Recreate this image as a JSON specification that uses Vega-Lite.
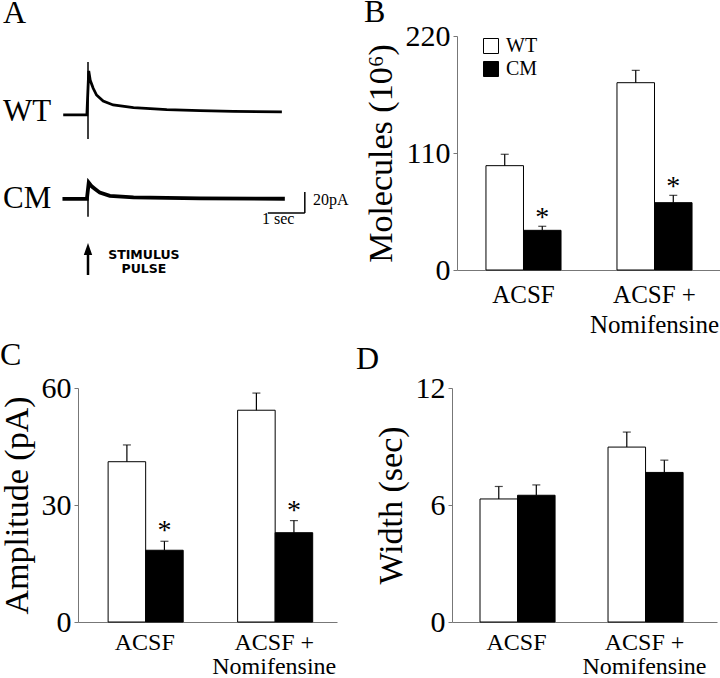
{
  "$schema": "https://vega.github.io/schema/vega-lite/v6.json",
  "padding": {"top": -4, "left": 0, "right": 0, "bottom": 0},
  "background": "white",
  "spacing": 2,
  "resolve": {"scale": {"fill": "independent"}, "legend": {"fill": "independent"}},
  "datasets": {
    "traces": [
      {"trace": "WT", "i": 0, "time": -0.67, "current": 80},
      {"trace": "WT", "i": 1, "time": -0.03, "current": 80},
      {"trace": "WT", "i": 2, "time": 0.02, "current": 122},
      {"trace": "WT", "i": 3, "time": 0.06, "current": 113},
      {"trace": "WT", "i": 4, "time": 0.14, "current": 105.4},
      {"trace": "WT", "i": 5, "time": 0.23, "current": 99},
      {"trace": "WT", "i": 6, "time": 0.41, "current": 93.3},
      {"trace": "WT", "i": 7, "time": 0.68, "current": 89.5},
      {"trace": "WT", "i": 8, "time": 1.23, "current": 87},
      {"trace": "WT", "i": 9, "time": 2.13, "current": 85},
      {"trace": "WT", "i": 10, "time": 3.03, "current": 84.1},
      {"trace": "WT", "i": 11, "time": 3.93, "current": 83.5},
      {"trace": "WT", "i": 12, "time": 5.24, "current": 82.9},
      {"trace": "CM", "i": 0, "time": -0.69, "current": 0},
      {"trace": "CM", "i": 1, "time": -0.03, "current": 0},
      {"trace": "CM", "i": 2, "time": 0.02, "current": 15.6},
      {"trace": "CM", "i": 3, "time": 0.1, "current": 12},
      {"trace": "CM", "i": 4, "time": 0.19, "current": 9.5},
      {"trace": "CM", "i": 5, "time": 0.32, "current": 6},
      {"trace": "CM", "i": 6, "time": 0.59, "current": 2.9},
      {"trace": "CM", "i": 7, "time": 1.23, "current": 1.6},
      {"trace": "CM", "i": 8, "time": 3.03, "current": 0.6},
      {"trace": "CM", "i": 9, "time": 5.32, "current": 0.2}
    ],
    "artifacts": [
      {"trace": "WT", "time": 0, "low": 57, "high": 130.5},
      {"trace": "CM", "time": 0, "low": -16.9, "high": 17.1}
    ],
    "scalebar": [
      {"time": 5.86, "time2": 5.86, "current": -13.3, "current2": 6.7},
      {"time": 4.86, "time2": 5.86, "current": -13.3, "current2": -13.3}
    ],
    "arrow": [{"time": 0, "low": -72.4, "high": -50, "head": -47.6}],
    "labels": [
      {"kind": "name", "label": "WT", "time": -2.297, "current": 82.4},
      {"kind": "name", "label": "CM", "time": -2.297, "current": 0},
      {"kind": "scale", "label": "20pA", "time": 6.08, "current": -1},
      {"kind": "scaleC", "label": "1 sec", "time": 5.14, "current": -19},
      {"kind": "stim", "label": "STIMULUS\nPULSE", "time": 1.51, "current": -53}
    ],
    "bars": [
      {"panel": "B", "condition": "ACSF", "genotype": "WT", "value": 98.1, "upper": 108.8, "sig": ""},
      {"panel": "B", "condition": "ACSF", "genotype": "CM", "value": 37.3, "upper": 41.1, "sig": "*"},
      {"panel": "B", "condition": "ACSF + Nomifensine", "genotype": "WT", "value": 176.1, "upper": 187.7, "sig": ""},
      {"panel": "B", "condition": "ACSF + Nomifensine", "genotype": "CM", "value": 63.3, "upper": 70.2, "sig": "*"},
      {"panel": "C", "condition": "ACSF", "genotype": "WT", "value": 41.1, "upper": 45.4, "sig": ""},
      {"panel": "C", "condition": "ACSF", "genotype": "CM", "value": 18.4, "upper": 20.7, "sig": "*"},
      {"panel": "C", "condition": "ACSF + Nomifensine", "genotype": "WT", "value": 54.3, "upper": 58.7, "sig": ""},
      {"panel": "C", "condition": "ACSF + Nomifensine", "genotype": "CM", "value": 22.9, "upper": 26, "sig": "*"},
      {"panel": "D", "condition": "ACSF", "genotype": "WT", "value": 6.31, "upper": 6.95, "sig": ""},
      {"panel": "D", "condition": "ACSF", "genotype": "CM", "value": 6.5, "upper": 7.03, "sig": ""},
      {"panel": "D", "condition": "ACSF + Nomifensine", "genotype": "WT", "value": 8.97, "upper": 9.74, "sig": ""},
      {"panel": "D", "condition": "ACSF + Nomifensine", "genotype": "CM", "value": 7.67, "upper": 8.3, "sig": ""}
    ]
  },
  "vconcat": [
    {
      "spacing": 15,
      "resolve": {"scale": {"fill": "independent"}, "legend": {"fill": "independent"}},
      "hconcat": [
        {
          "width": 267,
          "height": 250,
          "title": {"text": "A", "offset": 6},
          "encoding": {
            "x": {"field": "time", "type": "quantitative", "scale": {"domain": [-0.2703, 6.946], "nice": false, "zero": false}, "axis": null},
            "y": {"field": "current", "type": "quantitative", "scale": {"domain": [-82.9, 155.2], "nice": false, "zero": false}, "axis": null}
          },
          "layer": [
            {
              "data": {"name": "traces"},
              "transform": [{"filter": "datum.trace == 'WT'"}],
              "mark": {"type": "line", "color": "black", "strokeWidth": 2.8},
              "encoding": {"order": {"field": "i", "type": "quantitative"}}
            },
            {
              "data": {"name": "traces"},
              "transform": [{"filter": "datum.trace == 'CM'"}],
              "mark": {"type": "line", "color": "black", "strokeWidth": 3.8},
              "encoding": {"order": {"field": "i", "type": "quantitative"}}
            },
            {
              "data": {"name": "artifacts"},
              "mark": {"type": "rule", "color": "black", "strokeWidth": 1.5},
              "encoding": {"y": {"field": "low", "type": "quantitative"}, "y2": {"field": "high"}}
            },
            {
              "data": {"name": "scalebar"},
              "mark": {"type": "rule", "color": "black", "strokeWidth": 1.5},
              "encoding": {"x2": {"field": "time2"}, "y2": {"field": "current2"}}
            },
            {
              "data": {"name": "arrow"},
              "mark": {"type": "rule", "color": "black", "strokeWidth": 2.5},
              "encoding": {"y": {"field": "low", "type": "quantitative"}, "y2": {"field": "high"}}
            },
            {
              "data": {"name": "arrow"},
              "mark": {"type": "point", "filled": true, "color": "black", "opacity": 1, "size": 144, "shape": "M-0.7,1L0,-1L0.7,1Z"},
              "encoding": {"y": {"field": "head", "type": "quantitative"}}
            },
            {
              "data": {"name": "labels"},
              "transform": [{"filter": "datum.kind == 'name'"}],
              "mark": {"type": "text", "font": "Liberation Serif", "fontSize": 31, "align": "left", "baseline": "middle", "color": "black"},
              "encoding": {"text": {"field": "label"}}
            },
            {
              "data": {"name": "labels"},
              "transform": [{"filter": "datum.kind == 'scale'"}],
              "mark": {"type": "text", "font": "Liberation Serif", "fontSize": 16, "align": "left", "baseline": "middle", "color": "black"},
              "encoding": {"text": {"field": "label"}}
            },
            {
              "data": {"name": "labels"},
              "transform": [{"filter": "datum.kind == 'scaleC'"}],
              "mark": {"type": "text", "font": "Liberation Serif", "fontSize": 16, "align": "center", "baseline": "middle", "color": "black"},
              "encoding": {"text": {"field": "label"}}
            },
            {
              "data": {"name": "labels"},
              "transform": [{"filter": "datum.kind == 'stim'"}],
              "mark": {"type": "text", "font": "DejaVu Sans", "fontWeight": "bold", "fontSize": 12.5, "lineBreak": "\n", "lineHeight": 14, "align": "center", "baseline": "middle", "color": "black"},
              "encoding": {"text": {"field": "label"}}
            }
          ]
        },
        {
          "width": 264,
          "height": 234,
          "title": {"text": "B", "offset": -8},
          "data": {"name": "bars"},
          "transform": [{"filter": "datum.panel == 'B'"}],
          "encoding": {
            "x": {"field": "condition", "type": "nominal", "sort": ["ACSF", "ACSF + Nomifensine"], "scale": {"paddingInner": 0.427, "paddingOuter": 0.221, "align": 0.5},
              "axis": {"title": null, "ticks": false, "labelAngle": 0, "labelFontSize": 25, "labelPadding": 12, "labelLineHeight": 30, "labelExpr": "datum.value == 'ACSF' ? 'ACSF' : ['ACSF +', 'Nomifensine']"}},
            "xOffset": {"field": "genotype", "type": "nominal", "sort": ["WT", "CM"], "scale": {"paddingInner": 0, "paddingOuter": 0}}
          },
          "layer": [
            {
              "mark": {"type": "bar", "stroke": "black", "strokeWidth": 1},
              "encoding": {
                "y": {"field": "value", "type": "quantitative", "scale": {"domain": [0, 220], "nice": false}, "axis": {"title": "Molecules (10⁶)", "values": [0, 110, 220]}},
                "fill": {"field": "genotype", "type": "nominal", "sort": ["WT", "CM"], "scale": {"domain": ["WT", "CM"], "range": ["white", "black"]},
                  "legend": {"orient": "none", "legendX": 24, "legendY": 0, "title": null, "symbolType": "square", "symbolSize": 225, "symbolStrokeColor": "black", "symbolStrokeWidth": 1, "labelFontSize": 20, "labelFont": "Liberation Serif", "labelColor": "black", "labelOffset": 5, "rowPadding": 3}}
              }
            },
            {
              "mark": {"type": "rule", "color": "black", "strokeWidth": 1.2},
              "encoding": {"y": {"field": "value", "type": "quantitative"}, "y2": {"field": "upper"}}
            },
            {
              "mark": {"type": "tick", "color": "black", "size": 8, "thickness": 1.2, "orient": "horizontal"},
              "encoding": {"y": {"field": "upper", "type": "quantitative"}}
            },
            {
              "mark": {"type": "text", "font": "Liberation Serif", "fontSize": 28, "baseline": "alphabetic", "dy": 0, "color": "black"},
              "encoding": {"y": {"field": "upper", "type": "quantitative"}, "text": {"field": "sig"}}
            }
          ]
        }
      ]
    },
    {
      "spacing": 19,
      "resolve": {"scale": {"fill": "independent"}, "legend": {"fill": "independent"}},
      "hconcat": [
        {
          "width": 259,
          "height": 234,
          "title": {"text": "C", "offset": -3},
          "data": {"name": "bars"},
          "transform": [{"filter": "datum.panel == 'C'"}],
          "encoding": {
            "x": {"field": "condition", "type": "nominal", "sort": ["ACSF", "ACSF + Nomifensine"], "scale": {"paddingInner": 0.434, "paddingOuter": 0.217, "align": 0.536},
              "axis": {"title": null, "ticks": false, "labelAngle": 0, "labelFontSize": 24, "labelPadding": 8, "labelLineHeight": 24, "labelExpr": "datum.value == 'ACSF' ? 'ACSF' : ['ACSF +', 'Nomifensine']"}},
            "xOffset": {"field": "genotype", "type": "nominal", "sort": ["WT", "CM"], "scale": {"paddingInner": 0, "paddingOuter": 0}}
          },
          "layer": [
            {
              "mark": {"type": "bar", "stroke": "black", "strokeWidth": 1},
              "encoding": {
                "y": {"field": "value", "type": "quantitative", "scale": {"domain": [0, 60], "nice": false}, "axis": {"title": "Amplitude (pA)", "values": [0, 30, 60]}},
                "fill": {"field": "genotype", "type": "nominal", "sort": ["WT", "CM"], "scale": {"domain": ["WT", "CM"], "range": ["white", "black"]}, "legend": null}
              }
            },
            {
              "mark": {"type": "rule", "color": "black", "strokeWidth": 1.2},
              "encoding": {"y": {"field": "value", "type": "quantitative"}, "y2": {"field": "upper"}}
            },
            {
              "mark": {"type": "tick", "color": "black", "size": 8, "thickness": 1.2, "orient": "horizontal"},
              "encoding": {"y": {"field": "upper", "type": "quantitative"}}
            },
            {
              "mark": {"type": "text", "font": "Liberation Serif", "fontSize": 28, "baseline": "alphabetic", "dy": -2, "color": "black"},
              "encoding": {"y": {"field": "upper", "type": "quantitative"}, "text": {"field": "sig"}}
            }
          ]
        },
        {
          "width": 265,
          "height": 234,
          "title": {"text": "D", "offset": -3, "dx": -18},
          "data": {"name": "bars"},
          "transform": [{"filter": "datum.panel == 'D'"}],
          "encoding": {
            "x": {"field": "condition", "type": "nominal", "sort": ["ACSF", "ACSF + Nomifensine"], "scale": {"paddingInner": 0.43, "paddingOuter": 0.25, "align": 0.4375},
              "axis": {"title": null, "ticks": false, "labelAngle": 0, "labelFontSize": 24, "labelPadding": 8, "labelLineHeight": 24, "labelExpr": "datum.value == 'ACSF' ? 'ACSF' : ['ACSF +', 'Nomifensine']"}},
            "xOffset": {"field": "genotype", "type": "nominal", "sort": ["WT", "CM"], "scale": {"paddingInner": 0, "paddingOuter": 0}}
          },
          "layer": [
            {
              "mark": {"type": "bar", "stroke": "black", "strokeWidth": 1},
              "encoding": {
                "y": {"field": "value", "type": "quantitative", "scale": {"domain": [0, 12], "nice": false}, "axis": {"title": "Width (sec)", "values": [0, 6, 12]}},
                "fill": {"field": "genotype", "type": "nominal", "sort": ["WT", "CM"], "scale": {"domain": ["WT", "CM"], "range": ["white", "black"]}, "legend": null}
              }
            },
            {
              "mark": {"type": "rule", "color": "black", "strokeWidth": 1.2},
              "encoding": {"y": {"field": "value", "type": "quantitative"}, "y2": {"field": "upper"}}
            },
            {
              "mark": {"type": "tick", "color": "black", "size": 8, "thickness": 1.2, "orient": "horizontal"},
              "encoding": {"y": {"field": "upper", "type": "quantitative"}}
            }
          ]
        }
      ]
    }
  ],
  "config": {
    "view": {"stroke": null},
    "font": "Liberation Serif",
    "axis": {
      "grid": false,
      "domainColor": "#777",
      "domainWidth": 1,
      "tickColor": "#777",
      "tickSize": 4,
      "labelPadding": 3,
      "labelFont": "Liberation Serif",
      "labelColor": "black",
      "labelFontSize": 30,
      "titleFont": "Liberation Serif",
      "titleColor": "black",
      "titleFontSize": 34,
      "titleFontWeight": "normal",
      "titlePadding": 7
    },
    "title": {"font": "Liberation Serif", "fontSize": 32, "fontWeight": "normal", "color": "black", "anchor": "start", "frame": "bounds"}
  }
}
